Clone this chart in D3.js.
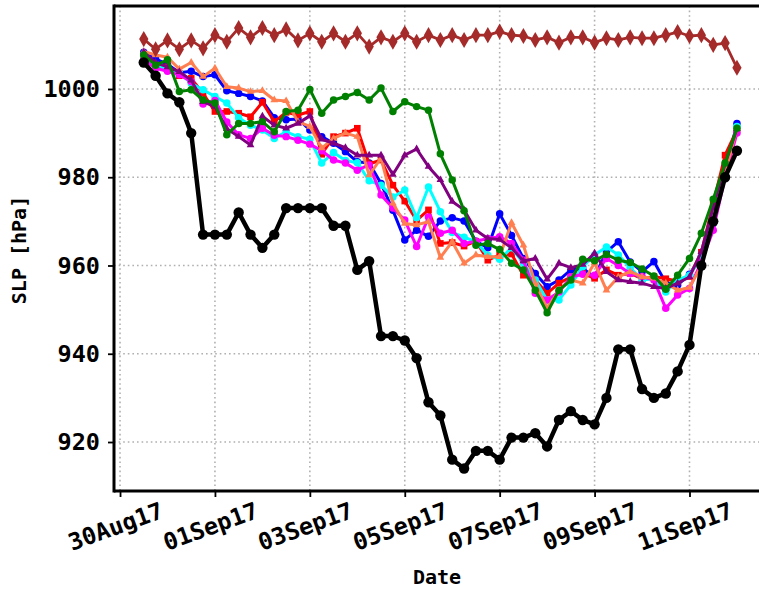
<!DOCTYPE html>
<html>
<head>
<meta charset="utf-8">
<script src="https://cdn.jsdelivr.net/npm/d3@7"></script>
<style>
  body { margin: 0; background: #fff; }
  text { font-family: "DejaVu Sans Mono", monospace; }
</style>
</head>
<body>
<div id="chart"></div>
<script>
// 6-hourly values, 30Aug17 12Z .. 12Sep17 00Z (51 steps)
var startTime = Date.UTC(2017, 7, 30, 12);
var stepHours = 6;

var obsSLP = [1006, 1003, 999, 997, 990, 967, 967, 967, 972, 967,
    964, 967, 973, 973, 973, 973, 969, 969, 959, 961,
    944, 944, 943, 939, 929, 926, 916, 914, 918, 918,
    916, 921, 921, 922, 919, 925, 927, 925, 924, 930,
    941, 941, 932, 930, 931, 936, 942, 960, 970, 980, 986];

var envSLP = [1011.3, 1009, 1011, 1009, 1011, 1009.2, 1012.2, 1010.7, 1013.8, 1011.7,
    1013.8, 1012.2, 1013.5, 1011, 1012.6, 1010.7, 1012.6, 1010.7, 1012.6, 1009.6,
    1011.7, 1010.7, 1012.6, 1010.7, 1012.2, 1011.1, 1012.2, 1011.1, 1012.2, 1012.2,
    1013, 1012.2, 1012, 1011.1, 1011.7, 1010.5, 1011.7, 1011.7, 1010.5, 1011.5,
    1011.1, 1011.7, 1011.5, 1011.5, 1012.2, 1012.9, 1012, 1012.2, 1010, 1010.4, 1004.8];

var blueSLP = [1008.3, 1006.8, 1005.6, 1003.7, 1004, 1002.8, 1003.2, 999.6, 999, 998.3,
    997.3, 993.5, 993, 993.2, 990.7, 989.2, 987.7, 985.8, 983.5, 983.2,
    978.6, 972.5, 965.8, 968, 966.6, 970.1, 970.8, 970.1, 965.5, 964,
    971.7, 966.8, 961.6, 958.2, 955.2, 956.7, 959, 959.3, 957.4, 963.1,
    965.4, 960.8, 958.6, 960.9, 956.1, 955.6, 958, 962, 969.5, 981, 992.2];

var redSLP = [1006.5, 1005.4, 1005, 1003, 1002.4, 999, 994.9, 994.9, 994.5, 993.7,
    997, 992.6, 994.7, 994.1, 994.9, 985.2, 989.2, 990, 991.1, 983,
    983.9, 978.2, 974.6, 970.2, 972.6, 965, 965.2, 964.4, 965.5, 961.2,
    962.4, 962.6, 957.8, 956.7, 953.7, 956, 957.4, 958.2, 957.1, 959,
    957.8, 958.2, 957, 957.5, 957, 956.5, 957.5, 963, 974, 985, 990.7];

var cyanSLP = [1007.7, 1005, 1004.7, 1003.6, 1001.3, 999.8, 998.3, 996.8, 993.5, 991.8,
    990.7, 988.8, 990.3, 989.2, 988.6, 983.2, 985.6, 983.8, 983.3, 979.2,
    978.2, 975.5, 977.1, 970.8, 977.8, 972.2, 967.5, 966.4, 965.4, 962.3,
    961.4, 964, 960.5, 956.7, 952.2, 952.2, 955.6, 959.7, 962.4, 964.2,
    962.4, 959.5, 956.7, 957, 954, 956.7, 957.8, 962, 970, 980.5, 991.5];

var magentaSLP = [1006.6, 1004.7, 1004, 1003.2, 1001.7, 996.6, 997.4, 992.5, 989.6, 988.8,
    991.1, 989.5, 989.2, 988.4, 987.5, 986, 983.9, 983.2, 981.6, 982.8,
    976, 973, 970.3, 964.3, 971, 967.3, 968, 965, 965.5, 966.1,
    966.5, 965, 961.2, 953.7, 952.2, 954, 957.4, 958, 957.8, 961.6,
    960, 958.2, 957.5, 956.7, 950.3, 953.3, 954.8, 960.8, 968, 980, 990];

var coralSLP = [1008.5, 1007.7, 1007.2, 1004.5, 1006, 1002.8, 1004.7, 1000.5, 1000.2, 999.4,
    999.6, 997.5, 997.3, 992.6, 991.5, 986.6, 988.8, 990, 989.2, 980.5,
    984.3, 974.1, 969.5, 969.2, 969.9, 961.8, 965.4, 960.5, 962.4, 962,
    962, 969.7, 964.6, 956, 950.3, 954.4, 956.7, 956, 960.6, 954.4,
    957.4, 958.6, 957.4, 957.1, 956, 954.4, 955, 960, 970, 981, 991];

var purpleSLP = [1008.3, 1006, 1005, 1003.9, 1002, 997.1, 996, 991, 989.2, 987.3,
    993.8, 991.8, 991.1, 992.2, 993.9, 988.6, 987.7, 986.7, 985, 985,
    985, 980.6, 985, 986.4, 982.4, 979.4, 974.5, 972.6, 968, 966.1,
    965.9, 964, 961, 961.6, 956.9, 960.5, 959.5, 960.2, 962.8, 958.6,
    956.7, 956.3, 956, 955.2, 954.8, 956, 957.4, 963.1, 973.3, 983, 991];

var greenSLP = [1007.7, 1005.4, 1006.6, 999.4, 999.8, 997.5, 996.8, 989.6, 992.2, 992.2,
    992.6, 990.3, 994.9, 995.2, 999.9, 994.5, 997.5, 998.3, 999.2, 997.5,
    1000.2, 994.9, 997.1, 996, 995.2, 985.3, 979.4, 972.4, 964.6, 965,
    963.6, 960.5, 959, 954.4, 949.3, 954.4, 956.7, 961.4, 961.1, 962.5,
    961.2, 960.7, 959.2, 957.6, 954.6, 957.8, 961.6, 967.3, 975, 983.2, 991.1];

var yTicks = [920, 940, 960, 980, 1000];
var xTickDates = ["2017-08-30", "2017-09-01", "2017-09-03", "2017-09-05",
    "2017-09-07", "2017-09-09", "2017-09-11"];

var width = 759, height = 590;
var plot = { left: 114, right: 764, top: 6, bottom: 491 };

var svg = d3.select("#chart").append("svg")
    .attr("width", width)
    .attr("height", height);

var dayMs = 86400000;
var t0 = Date.UTC(2017, 7, 30);
var x = d3.scaleUtc()
    .domain([new Date(t0 - 0.127 * dayMs), new Date(t0 + 13.57 * dayMs)])
    .range([plot.left, plot.right]);

var y = d3.scaleLinear()
    .domain([908.9, 1018.8])
    .range([plot.bottom, plot.top]);

var tickDates = xTickDates.map(function(s) { return new Date(s + "T00:00:00Z"); });

// grid
var grid = svg.append("g");
grid.selectAll(".hgrid").data(yTicks).enter().append("line")
    .attr("x1", plot.left).attr("x2", plot.right)
    .attr("y1", function(d) { return y(d); }).attr("y2", function(d) { return y(d); })
    .attr("stroke", "#b0b0b0").attr("stroke-width", 1.6).attr("stroke-dasharray", "1.6,3");
grid.selectAll(".vgrid").data(tickDates).enter().append("line")
    .attr("y1", plot.top).attr("y2", plot.bottom)
    .attr("x1", function(d) { return x(d); }).attr("x2", function(d) { return x(d); })
    .attr("stroke", "#b0b0b0").attr("stroke-width", 1.6).attr("stroke-dasharray", "1.6,3");

function withTimes(vals) {
    return vals.map(function(v, i) {
        return { t: new Date(startTime + i * stepHours * 3600000), v: v };
    });
}

var line = d3.line()
    .x(function(d) { return x(d.t); })
    .y(function(d) { return y(d.v); });

var members = [
    { vals: blueSLP, color: "blue", marker: "circle" },
    { vals: redSLP, color: "red", marker: "square" },
    { vals: cyanSLP, color: "cyan", marker: "circle" },
    { vals: magentaSLP, color: "magenta", marker: "circle" },
    { vals: coralSLP, color: "coral", marker: "triangle" },
    { vals: purpleSLP, color: "purple", marker: "triangle" },
    { vals: greenSLP, color: "green", marker: "circle" }
];

svg.append("clipPath").attr("id", "clip").append("rect")
    .attr("x", plot.left).attr("y", plot.top)
    .attr("width", plot.right - plot.left).attr("height", plot.bottom - plot.top);

var plotG = svg.append("g").attr("clip-path", "url(#clip)");

function drawSeries(vals, color, marker, lw, size) {
    var data = withTimes(vals);
    var g = plotG.append("g");
    g.append("path")
        .attr("d", line(data))
        .attr("fill", "none")
        .attr("stroke", color)
        .attr("stroke-width", lw)
        .attr("stroke-linejoin", "round");
    var sym = {
        circle: d3.symbolCircle, square: d3.symbolSquare,
        triangle: d3.symbolTriangle, diamond: d3.symbolDiamond
    }[marker];
    g.selectAll("path.m").data(data).enter().append("path")
        .attr("class", "m")
        .attr("transform", function(d) { return "translate(" + x(d.t) + "," + y(d.v) + ")"; })
        .attr("d", d3.symbol().type(sym).size(size))
        .attr("fill", color);
}

members.forEach(function(m) {
    drawSeries(m.vals, m.color, m.marker, 3, m.marker === "triangle" ? 26 : 44);
});
drawSeries(envSLP, "#a52a2a", "diamond", 2.8, 75);
drawSeries(obsSLP, "black", "circle", 4.5, 85);

// axes
var xAxis = svg.append("g")
    .attr("transform", "translate(0," + plot.bottom + ")")
    .call(d3.axisBottom(x).tickValues(tickDates).tickFormat(d3.utcFormat("%d%b%y")).tickSize(6).tickPadding(6));
xAxis.select(".domain").remove();
xAxis.selectAll(".tick line").attr("stroke-width", 1.8);
xAxis.selectAll("text")
    .attr("font-size", "23.5px")
    .attr("font-weight", "bold")
    .attr("fill", "black")
    .attr("text-anchor", "middle")
    .attr("dy", 0)
    .attr("y", 0)
    .attr("transform", "translate(-2,43) rotate(-20)");

var yAxis = svg.append("g")
    .attr("transform", "translate(" + plot.left + ",0)")
    .call(d3.axisLeft(y).tickValues(yTicks).tickFormat(d3.format("d")).tickSize(6).tickPadding(8));
yAxis.select(".domain").remove();
yAxis.selectAll(".tick line").attr("stroke-width", 1.8);
yAxis.selectAll("text")
    .attr("font-size", "23.5px")
    .attr("font-weight", "bold")
    .attr("fill", "black");

// spines
svg.append("line").attr("x1", plot.left).attr("x2", plot.left)
    .attr("y1", plot.top - 1.5).attr("y2", plot.bottom + 1.5)
    .attr("stroke", "black").attr("stroke-width", 3);
svg.append("line").attr("x1", plot.left).attr("x2", plot.right)
    .attr("y1", plot.bottom).attr("y2", plot.bottom)
    .attr("stroke", "black").attr("stroke-width", 3);
svg.append("line").attr("x1", plot.left).attr("x2", plot.right)
    .attr("y1", plot.top).attr("y2", plot.top)
    .attr("stroke", "black").attr("stroke-width", 3);

// axis labels
svg.append("text")
    .attr("x", 437).attr("y", 584)
    .attr("text-anchor", "middle")
    .attr("font-size", "20px")
    .attr("font-weight", "600")
    .text("Date");
svg.append("text")
    .attr("transform", "translate(26,250) rotate(-90)")
    .attr("text-anchor", "middle")
    .attr("font-size", "20px")
    .attr("font-weight", "600")
    .text("SLP [hPa]");
</script>
</body>
</html>
